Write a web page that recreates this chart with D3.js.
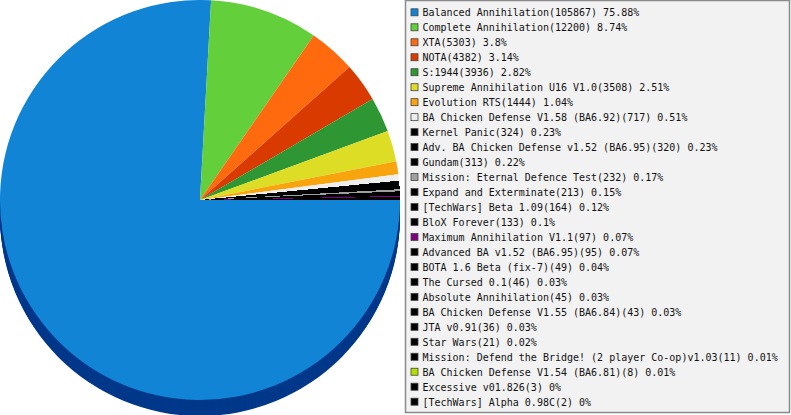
<!DOCTYPE html>
<html><head><meta charset="utf-8">
<script src="https://cdn.jsdelivr.net/npm/d3@7"></script>
<style>html,body{margin:0;padding:0;background:#fff;overflow:hidden}</style>
</head><body>
<svg id="c" width="791" height="415"></svg>
<script>
const names = ["Balanced Annihilation","Complete Annihilation","XTA","NOTA","S:1944","Supreme Annihilation U16 V1.0","Evolution RTS","BA Chicken Defense V1.58 (BA6.92)","Kernel Panic","Adv. BA Chicken Defense v1.52 (BA6.95)","Gundam","Mission: Eternal Defence Test","Expand and Exterminate","[TechWars] Beta 1.09","BloX Forever","Maximum Annihilation V1.1","Advanced BA v1.52 (BA6.95)","BOTA 1.6 Beta (fix-7)","The Cursed 0.1","Absolute Annihilation","BA Chicken Defense V1.55 (BA6.84)","JTA v0.91","Star Wars","Mission: Defend the Bridge! (2 player Co-op)v1.03","BA Chicken Defense V1.54 (BA6.81)","Excessive v01.826","[TechWars] Alpha 0.98C"];
const counts = [105867,12200,5303,4382,3936,3508,1444,717,324,320,313,232,213,164,133,97,95,49,46,45,43,36,21,11,8,3,2];
const percents = ["75.88","8.74","3.8","3.14","2.82","2.51","1.04","0.51","0.23","0.23","0.22","0.17","0.15","0.12","0.1","0.07","0.07","0.04","0.03","0.03","0.03","0.03","0.02","0.01","0.01","0","0"];
const colors = ["#1184d6","#63cf3b","#ff6a0e","#d93a00","#2e9632","#dddd26","#f8a40d","#eeeeee","#000000","#000000","#000000","#a0a0a0","#000000","#000000","#000000","#800080","#000000","#000000","#000000","#000000","#000000","#000000","#000000","#000000","#b4e000","#000000","#000000"];
const sideColors = ["#00388a","#3a8a22","#b04400","#902600","#1a5e1c","#9a9a10","#a86e04","#a0a0a0","#000000","#000000","#000000","#606060","#000000","#000000","#000000","#500050","#000000","#000000","#000000","#000000","#000000","#000000","#000000","#000000","#789600","#000000","#000000"];

const svg = d3.select("#c");
const cx = 200, cy = 200, R = 200, depth = 16;
const data = names.map((n,i)=>({name:n,count:counts[i],pct:percents[i],color:colors[i],side:sideColors[i]}));
const pie = d3.pie().sort(null).value(d=>d.count).startAngle(Math.PI/2).endAngle(Math.PI/2+2*Math.PI);
const arcs = pie(data);
const arc = d3.arc().innerRadius(0).outerRadius(R);

const sideArcs = arcs.map(a=>{
  const s = Math.max(a.startAngle, Math.PI/2), e = Math.min(a.endAngle, 3*Math.PI/2);
  return e > s ? Object.assign({}, a, {startAngle:s, endAngle:e}) : null;
}).filter(Boolean);

const g = svg.append("g");
for (let k = depth; k >= 1; k--) {
  g.append("g").attr("transform",`translate(${cx},${cy+k})`)
    .selectAll("path").data(sideArcs).join("path")
    .attr("d", arc).attr("fill", d=>d.data.side);
}
g.append("g").attr("transform",`translate(${cx},${cy})`)
  .selectAll("path").data(arcs).join("path")
  .attr("d", arc).attr("fill", d=>d.data.color)
  .attr("shape-rendering", d=>d.index >= 8 ? "crispEdges" : null);

// legend
const lx = 405, ly = 1, lw = 384, lh = 412;
svg.append("rect").attr("x",lx+0.5).attr("y",ly-0.5).attr("width",lw).attr("height",lh)
  .attr("fill","#f2f2f2").attr("stroke","#8a8a8a").attr("stroke-width",1.5);
const y = d3.scalePoint().domain(names).range([12.3, 401.7]);
const rows = svg.append("g").selectAll("g").data(data).join("g")
  .attr("transform", d=>`translate(0,${y(d.name)})`);
rows.append("rect").attr("x",411).attr("y",-3.5).attr("width",7).attr("height",7)
  .attr("fill", d=>d.color).attr("stroke","#444").attr("stroke-width",0.8);
rows.append("text").attr("x",422.5).attr("y",3.8)
  .attr("font-family","DejaVu Sans Mono, monospace").attr("font-size","10px").attr("fill","#111")
  .text(d=>`${d.name}(${d.count}) ${d.pct}%`);
</script>
</body></html>
